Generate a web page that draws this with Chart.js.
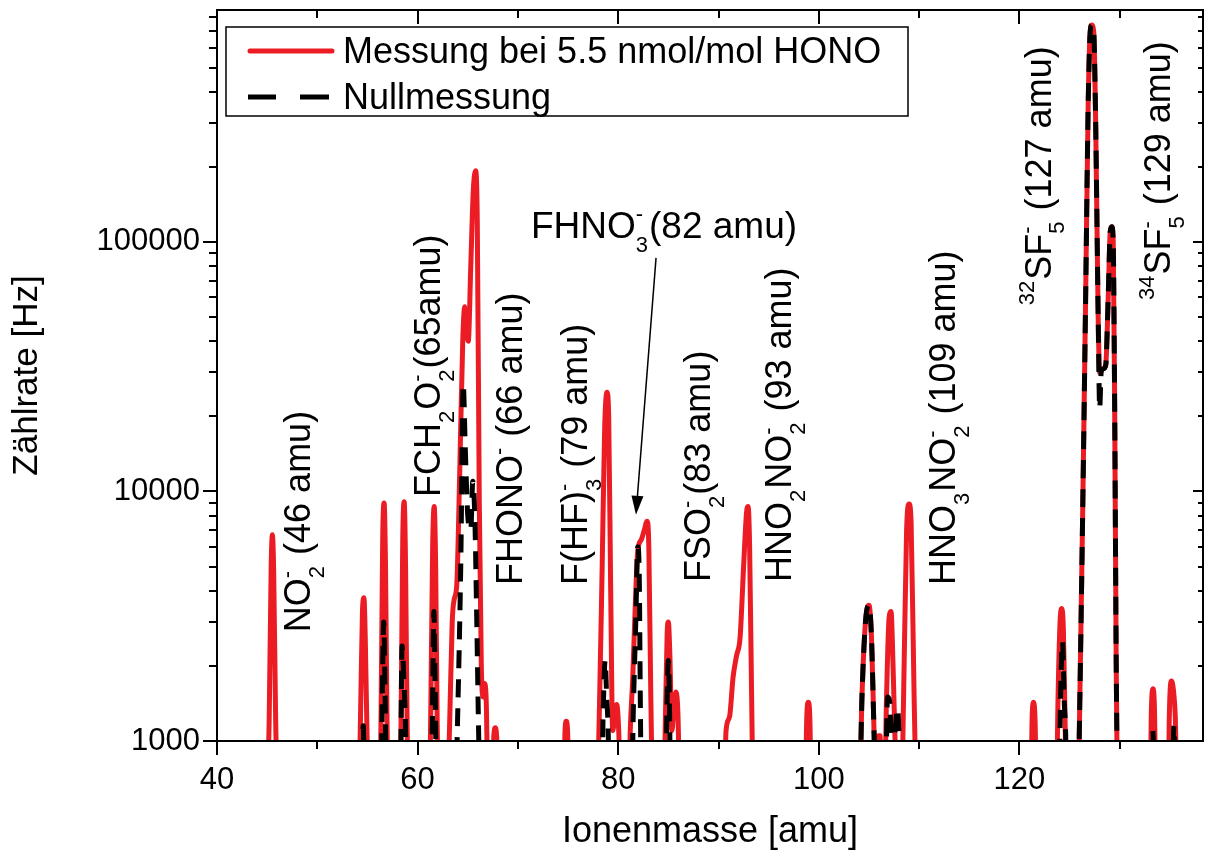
<!DOCTYPE html>
<html>
<head>
<meta charset="utf-8">
<title>Zählrate vs. Ionenmasse</title>
<script src="https://cdn.jsdelivr.net/npm/chart.js@4.4.0/dist/chart.umd.min.js"></script>
<style>
  html, body { margin: 0; padding: 0; background: #fff; }
</style>
</head>
<body>
<canvas id="chart" width="1208" height="854"></canvas>
<script>
// ---- data (values < 1000 fall below the axis and are clipped) ----
const massRed = [
  44.9, 45.2, 45.4, 45.52, 45.65, 45.85, 46.1,
  54.1, 54.3, 54.5, 54.65, 54.78, 54.95, 55.2,
  56.15, 56.35, 56.52, 56.66, 56.8, 56.95, 57.2,
  58.15, 58.35, 58.52, 58.66, 58.8, 58.95, 59.2,
  61.1, 61.3, 61.5, 61.65, 61.8, 61.95, 62.2,
  62.9, 63.2, 63.45, 63.65, 63.9, 64.2, 64.5, 64.7, 64.85, 65.05, 65.3, 65.55, 65.78, 65.95, 66.15, 66.35, 66.55, 66.7, 66.85, 67.05, 67.4, 67.6, 67.75, 67.9, 68.1,
  74.5, 74.7, 74.82, 74.95, 75.15,
  77.8, 78.1, 78.4, 78.65, 78.88, 79.05, 79.25, 79.45, 79.65, 79.85, 80.05, 80.3,
  81.0, 81.2, 81.45, 81.7, 81.95, 82.3, 82.6, 82.88, 83.05, 83.25, 83.5,
  84.5, 84.7, 84.88, 85.0, 85.15, 85.35, 85.55, 85.75, 85.95, 86.2,
  90.5, 90.75, 91.1, 91.45, 91.8, 92.15, 92.5, 92.8, 92.95, 93.1, 93.3, 93.5,
  98.6, 98.8, 98.95, 99.1, 99.3,
  104.0, 104.3, 104.65, 105.0, 105.25, 105.5, 105.75, 105.95, 106.1, 106.3, 106.5, 106.75, 107.0, 107.2, 107.4, 107.6, 107.85, 108.2, 108.45, 108.75, 109.0, 109.2, 109.5, 109.8,
  121.1, 121.28, 121.42, 121.56, 121.75,
  123.65, 123.85, 124.05, 124.22, 124.38, 124.55, 124.75,
  125.8, 126.0, 126.3, 126.6, 126.85, 127.05, 127.2, 127.4, 127.6, 127.85, 128.0, 128.3, 128.6, 128.85, 129.05, 129.2, 129.35, 129.5, 129.65, 129.85,
  133.0, 133.15, 133.3, 133.45, 133.65,
  134.8, 134.95, 135.15, 135.35, 135.55, 135.75
];
const rateRed = [
  500, 1200, 5000, 6700, 4800, 1200, 500,
  500, 1200, 3300, 3750, 2600, 1100, 500,
  500, 1200, 6500, 9000, 5000, 1200, 500,
  500, 1200, 6500, 9100, 5000, 1200, 500,
  500, 1200, 6000, 8700, 5000, 1200, 500,
  500, 1200, 3000, 3700, 4200, 12000, 40000, 55000, 45000, 40000, 80000, 160000, 193000, 120000, 9000, 2000, 1500, 1700, 1400, 500, 500, 1050, 1130, 1000, 500,
  500, 1100, 1200, 1100, 500,
  500, 1200, 5000, 18000, 25000, 20000, 4000, 1100, 1250, 1400, 1100, 500,
  500, 1100, 1800, 3500, 5800, 6400, 7000, 7600, 6000, 1500, 500,
  500, 1200, 2700, 3000, 2200, 1100, 1350, 1570, 1300, 500,
  500, 1100, 1250, 1800, 2200, 2600, 5000, 8300, 8700, 6000, 1500, 500,
  500, 1250, 1430, 1250, 500,
  500, 1500, 3000, 3500, 2600, 1100, 500, 1050, 1050, 500, 500, 1500, 3100, 3300, 2000, 1000, 500, 500, 1500, 7000, 8900, 7500, 1500, 500,
  500, 1300, 1430, 1200, 500,
  500, 1500, 3000, 3400, 2800, 1200, 500,
  500, 1300, 8000, 60000, 350000, 690000, 740000, 700000, 300000, 50000, 30000, 31000, 32000, 60000, 110000, 115000, 100000, 20000, 2000, 500,
  500, 1300, 1620, 1400, 500,
  500, 1300, 1740, 1600, 1200, 500
];

const massNull = [
  54.4, 54.58, 54.75,
  56.3, 56.48, 56.62, 56.76, 56.92,
  58.25, 58.45, 58.62, 58.8, 58.95,
  61.35, 61.5, 61.62, 61.76, 61.92,
  63.7, 64.0, 64.3, 64.55, 64.75, 65.0, 65.3, 65.5, 65.7, 65.9, 66.1, 66.3,
  78.3, 78.5, 78.7, 78.85, 79.0, 79.15,
  81.3, 81.5, 81.75, 81.95, 82.1, 82.2, 82.35,
  84.7, 84.85, 85.0, 85.1, 85.25,
  104.0, 104.3, 104.65, 105.0, 105.25, 105.5, 105.75,
  106.6, 106.85, 107.05, 107.3, 107.6, 107.85, 108.05, 108.25,
  123.9, 124.1, 124.3, 124.45, 124.6, 124.8,
  125.8, 126.0, 126.3, 126.6, 126.85, 127.05, 127.2, 127.4, 127.6, 127.85, 128.0, 128.15, 128.35, 128.6, 128.85, 129.05, 129.2, 129.35, 129.5, 129.65, 129.85,
  131.4, 131.6, 131.8,
  133.1, 133.3, 133.5,
  135.2, 135.4, 135.6
];
const rateNull = [
  500, 1150, 500,
  500, 1500, 3000, 1500, 500,
  500, 2400, 1800, 1100, 500,
  500, 1500, 3300, 1500, 500,
  500, 1300, 5000, 27000, 15000, 8000, 7000, 11000, 8000, 3000, 1000, 500,
  500, 1300, 2100, 1500, 1100, 500,
  500, 1300, 3000, 6000, 4500, 1500, 500,
  500, 1300, 2100, 1500, 500,
  500, 1500, 3000, 3500, 2600, 1100, 500,
  500, 1500, 1450, 900, 1100, 1350, 900, 500,
  500, 1500, 2500, 1500, 1100, 500,
  500, 1300, 8000, 60000, 350000, 690000, 740000, 700000, 300000, 50000, 21500, 30000, 31000, 32000, 60000, 110000, 115000, 100000, 20000, 2000, 500,
  500, 1040, 500,
  500, 1100, 500,
  500, 1150, 500
];

const xTicks = [40, 50, 60, 70, 80, 90, 100, 110, 120, 130];
const xTickLabels = [40, 60, 80, 100, 120];
const yTickLabels = [1000, 10000, 100000];

const seriesNames = ['Messung bei 5.5 nmol/mol HONO', 'Nullmessung'];

// peak annotations: runs of text, {sub, sup} are stacked indices
const peakLabels = [
  { runs: ['NO', { sub: '2', sup: '-' }, ' (46 amu)'], mass: 49.27, rate: 2730 },
  { runs: ['FCH', { sub: '2' }, 'O', { sub: '2', sup: '-' }, '(65amu)'], mass: 62.23, rate: 9500 },
  { runs: ['FHONO', { sup: '-' }, ' (66 amu)'], mass: 70.41, rate: 4220 },
  { runs: ['F(HF)', { sub: '3', sup: '-' }, ' (79 amu)'], mass: 76.89, rate: 4220 },
  { runs: ['FSO', { sub: '2', sup: '-' }, '(83 amu)'], mass: 89.15, rate: 4340 },
  { runs: ['HNO', { sub: '2' }, 'NO', { sub: '2', sup: '-' }, ' (93 amu)'], mass: 97.23, rate: 4340 },
  { runs: ['HNO', { sub: '3' }, 'NO', { sub: '2', sup: '-' }, ' (109 amu)'], mass: 113.58, rate: 4220 },
  { runs: [{ sup: '32' }, 'SF', { sub: '5', sup: '-' }, ' (127 amu)'], mass: 123.1, rate: 55800 },
  { runs: [{ sup: '34' }, 'SF', { sub: '5', sup: '-' }, ' (129 amu)'], mass: 135.0, rate: 58500 }
];
const arrowLabel = { runs: ['FHNO', { sub: '3', sup: '-' }, '(82 amu)'], mass: 71.3, rate: 104000 };
const arrowFrom = { mass: 83.77, rate: 86300 };
const arrowTo = { mass: 81.77, rate: 8060 };

const FONT = '"Liberation Sans", Arial, sans-serif';
const RED = '#ec1c24';

function toPoints(xs, ys) {
  return xs.map((x, i) => ({ x: x, y: ys[i] }));
}

function drawRuns(ctx, runs, fs) {
  const small = Math.round(fs * 0.6);
  let x = 0;
  runs.forEach(r => {
    if (typeof r === 'string') {
      ctx.font = fs + 'px ' + FONT;
      ctx.fillText(r, x, 0);
      x += ctx.measureText(r).width;
    } else {
      ctx.font = small + 'px ' + FONT;
      let w = 0;
      if (r.sub) {
        ctx.fillText(r.sub, x, fs * 0.38);
        w = Math.max(w, ctx.measureText(r.sub).width);
      }
      if (r.sup) {
        ctx.fillText(r.sup, x, -fs * 0.45);
        w = Math.max(w, ctx.measureText(r.sup).width);
      }
      x += w + 1;
    }
  });
}

const framePlugin = {
  id: 'frame',
  afterDatasetsDraw(chart) {
    const ctx = chart.ctx;
    const a = chart.chartArea;
    const xs = chart.scales.x, ys = chart.scales.y;
    ctx.save();
    ctx.strokeStyle = '#000';
    ctx.lineWidth = 2;
    ctx.strokeRect(a.left, a.top, a.right - a.left, a.bottom - a.top);

    // x ticks: bottom outward, top inward
    xTicks.forEach(v => {
      const px = Math.round(xs.getPixelForValue(v));
      const len = xTickLabels.includes(v) ? 14 : 8;
      ctx.beginPath();
      ctx.moveTo(px, a.bottom); ctx.lineTo(px, a.bottom + len);
      ctx.moveTo(px, a.top); ctx.lineTo(px, a.top + len);
      ctx.stroke();
    });
    // y ticks: left outward, right inward
    ys.ticks.forEach(t => {
      const py = Math.round(ys.getPixelForValue(t.value));
      const major = yTickLabels.includes(t.value);
      ctx.beginPath();
      ctx.moveTo(a.left, py); ctx.lineTo(a.left - (major ? 14 : 8), py);
      ctx.moveTo(a.right, py); ctx.lineTo(a.right - (major ? 10 : 5), py);
      ctx.stroke();
    });

    // peak labels
    ctx.fillStyle = '#000';
    ctx.textBaseline = 'alphabetic';
    ctx.textAlign = 'left';
    peakLabels.forEach(l => {
      ctx.save();
      ctx.translate(xs.getPixelForValue(l.mass), ys.getPixelForValue(l.rate));
      ctx.rotate(-Math.PI / 2);
      drawRuns(ctx, l.runs, 36);
      ctx.restore();
    });
    ctx.save();
    ctx.translate(xs.getPixelForValue(arrowLabel.mass), ys.getPixelForValue(arrowLabel.rate));
    drawRuns(ctx, arrowLabel.runs, 37);
    ctx.restore();

    // arrow
    const x0 = xs.getPixelForValue(arrowFrom.mass), y0 = ys.getPixelForValue(arrowFrom.rate);
    const x1 = xs.getPixelForValue(arrowTo.mass), y1 = ys.getPixelForValue(arrowTo.rate);
    const ang = Math.atan2(y1 - y0, x1 - x0);
    ctx.lineWidth = 1.5;
    ctx.beginPath();
    ctx.moveTo(x0, y0);
    ctx.lineTo(x1 - 16 * Math.cos(ang), y1 - 16 * Math.sin(ang));
    ctx.stroke();
    ctx.beginPath();
    ctx.moveTo(x1, y1);
    ctx.lineTo(x1 - 19 * Math.cos(ang) + 6 * Math.sin(ang), y1 - 19 * Math.sin(ang) - 6 * Math.cos(ang));
    ctx.lineTo(x1 - 19 * Math.cos(ang) - 6 * Math.sin(ang), y1 - 19 * Math.sin(ang) + 6 * Math.cos(ang));
    ctx.closePath();
    ctx.fill();

    // legend box
    const lx = a.left + 9, ly = a.top + 17;
    ctx.lineWidth = 1.5;
    ctx.strokeRect(lx, ly, 682, 89);
    ctx.lineWidth = 5;
    ctx.lineCap = 'round';
    ctx.strokeStyle = RED;
    ctx.beginPath();
    ctx.moveTo(lx + 24, ly + 24); ctx.lineTo(lx + 106, ly + 24);
    ctx.stroke();
    ctx.strokeStyle = '#000';
    ctx.lineCap = 'butt';
    ctx.beginPath();
    ctx.moveTo(lx + 22, ly + 70); ctx.lineTo(lx + 50, ly + 70);
    ctx.moveTo(lx + 74, ly + 70); ctx.lineTo(lx + 103, ly + 70);
    ctx.stroke();
    ctx.font = '36px ' + FONT;
    ctx.fillText(seriesNames[0], lx + 117, ly + 36);
    ctx.fillText(seriesNames[1], lx + 117, ly + 82);
    ctx.restore();
  }
};

new Chart(document.getElementById('chart'), {
  type: 'line',
  data: {
    datasets: [
      {
        label: seriesNames[0],
        data: toPoints(massRed, rateRed),
        borderColor: RED,
        borderWidth: 5,
        pointRadius: 0,
        fill: false,
        cubicInterpolationMode: 'monotone',
        clip: 0,
        order: 2
      },
      {
        label: seriesNames[1],
        data: toPoints(massNull, rateNull),
        borderColor: '#000',
        borderWidth: 5,
        borderDash: [18, 11],
        pointRadius: 0,
        fill: false,
        cubicInterpolationMode: 'monotone',
        clip: 0,
        order: 1
      }
    ]
  },
  options: {
    responsive: false,
    animation: false,
    layout: { padding: { top: 10, right: 5, left: 0, bottom: 0 } },
    plugins: { legend: { display: false }, tooltip: { enabled: false } },
    scales: {
      x: {
        type: 'linear',
        min: 40,
        max: 138.3,
        grid: { display: false, drawTicks: false },
        border: { display: false },
        afterBuildTicks: s => { s.ticks = xTicks.map(v => ({ value: v })); },
        afterFit: s => { s.height = 113; s.paddingLeft = 0; s.paddingRight = 0; },
        ticks: {
          autoSkip: false,
          maxRotation: 0,
          padding: 21,
          color: '#000',
          font: { family: FONT, size: 31 },
          callback: v => (xTickLabels.includes(v) ? String(v) : '')
        },
        title: {
          display: true,
          text: 'Ionenmasse [amu]',
          color: '#000',
          font: { family: FONT, size: 36 },
          padding: { top: 0, bottom: 0 }
        }
      },
      y: {
        type: 'logarithmic',
        min: 1000,
        max: 850000,
        grid: { display: false, drawTicks: false },
        border: { display: false },
        afterBuildTicks: s => {
          const t = [];
          [1000, 10000, 100000].forEach(d => {
            for (let k = 1; k <= 9; k++) {
              if (d * k <= 850000) t.push({ value: d * k });
            }
          });
          s.ticks = t;
        },
        afterFit: s => { s.width = 217; s.paddingTop = 0; s.paddingBottom = 0; },
        ticks: {
          autoSkip: false,
          padding: 17,
          color: '#000',
          font: { family: FONT, size: 31 },
          callback: v => (yTickLabels.includes(v) ? String(v) : '')
        },
        title: {
          display: true,
          text: 'Zählrate [Hz]',
          color: '#000',
          font: { family: FONT, size: 35 },
          padding: { top: 6, bottom: 0 }
        }
      }
    }
  },
  plugins: [framePlugin]
});
</script>
</body>
</html>
